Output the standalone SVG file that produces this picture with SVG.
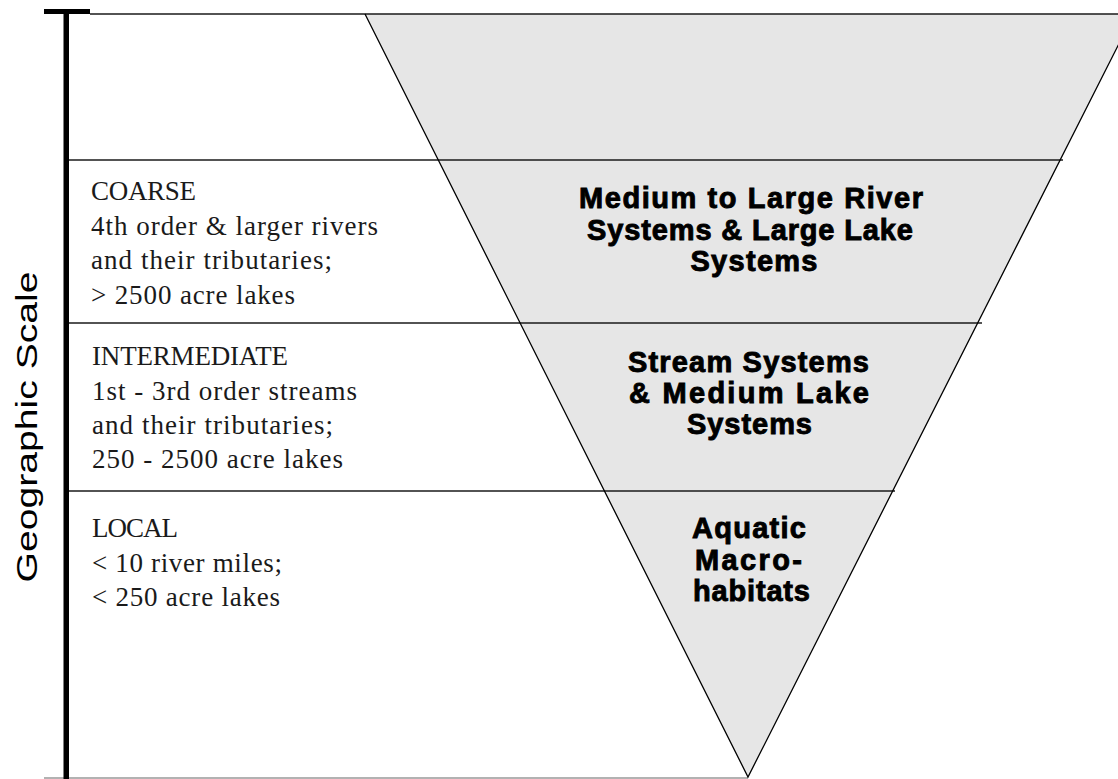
<svg xmlns="http://www.w3.org/2000/svg" width="1118" height="779" viewBox="0 0 1118 779">
<style>
.row{stroke:#1a1a1a;stroke-width:1.4;fill:none}
.tri{fill:#e6e6e6;stroke:none}
.edge{stroke:#000;stroke-width:1.3;fill:none}
.lbl{font-family:"Liberation Serif","Times New Roman",serif;font-size:27px;fill:#1a1a1a}
.sys{font-family:"Liberation Sans",Arial,sans-serif;font-weight:bold;font-size:29px;fill:#000;stroke:#000;stroke-width:0.9;text-anchor:middle}
.axis{font-family:"Liberation Sans",Arial,sans-serif;font-size:30px;fill:#000;text-anchor:middle}
</style>
<rect width="1118" height="779" fill="#fff"/>
<g id="pyramid">
<polygon class="tri" points="365,14 1134,14 748,777"/>
</g>
<g id="connectors">
<line class="row" x1="90" y1="14" x2="1118" y2="14"/>
<line class="row" x1="69" y1="160" x2="1063" y2="160"/>
<line class="row" x1="69" y1="323" x2="982" y2="323"/>
<line class="row" x1="69" y1="491" x2="895" y2="491"/>
<line stroke="#999" stroke-width="1.5" x1="44" y1="778" x2="748" y2="778"/>
<polyline class="edge" points="365,14 748,777 1134,14"/>
</g>
<g id="axis">
<rect x="63.5" y="9" width="5.5" height="770" fill="#000"/>
<rect x="44" y="9" width="46" height="5" fill="#000"/>
<text class="axis" transform="translate(37,427) rotate(-90)" textLength="311" lengthAdjust="spacingAndGlyphs">Geographic Scale</text>
</g>
<g id="coarse">
<text class="lbl" x="91" y="200" textLength="105">COARSE</text>
<text class="lbl" x="91" y="235" textLength="287">4th order &amp; larger rivers</text>
<text class="lbl" x="91" y="269" textLength="241">and their tributaries;</text>
<text class="lbl" x="91" y="304" textLength="204">&gt; 2500 acre lakes</text>
</g>
<g id="intermediate">
<text class="lbl" x="92" y="365" textLength="196">INTERMEDIATE</text>
<text class="lbl" x="92" y="400" textLength="265">1st - 3rd order streams</text>
<text class="lbl" x="92" y="434" textLength="241">and their tributaries;</text>
<text class="lbl" x="92" y="468" textLength="251">250 - 2500 acre lakes</text>
</g>
<g id="local">
<text class="lbl" x="92" y="537" textLength="86">LOCAL</text>
<text class="lbl" x="92" y="572" textLength="190">&lt; 10 river miles;</text>
<text class="lbl" x="92" y="606" textLength="188">&lt; 250 acre lakes</text>
</g>
<g id="large-systems">
<text class="sys" x="751" y="208" textLength="344">Medium to Large River</text>
<text class="sys" x="750" y="240" textLength="326">Systems &amp; Large Lake</text>
<text class="sys" x="754" y="271" textLength="127">Systems</text>
</g>
<g id="stream-systems">
<text class="sys" x="748.5" y="372" textLength="241">Stream Systems</text>
<text class="sys" x="749" y="403" textLength="240">&amp; Medium Lake</text>
<text class="sys" x="749.5" y="434" textLength="125">Systems</text>
</g>
<g id="macrohabitats">
<text class="sys" x="749" y="538" textLength="114">Aquatic</text>
<text class="sys" x="748.5" y="570" textLength="107">Macro-</text>
<text class="sys" x="751.5" y="601" textLength="117">habitats</text>
</g>
</svg>
